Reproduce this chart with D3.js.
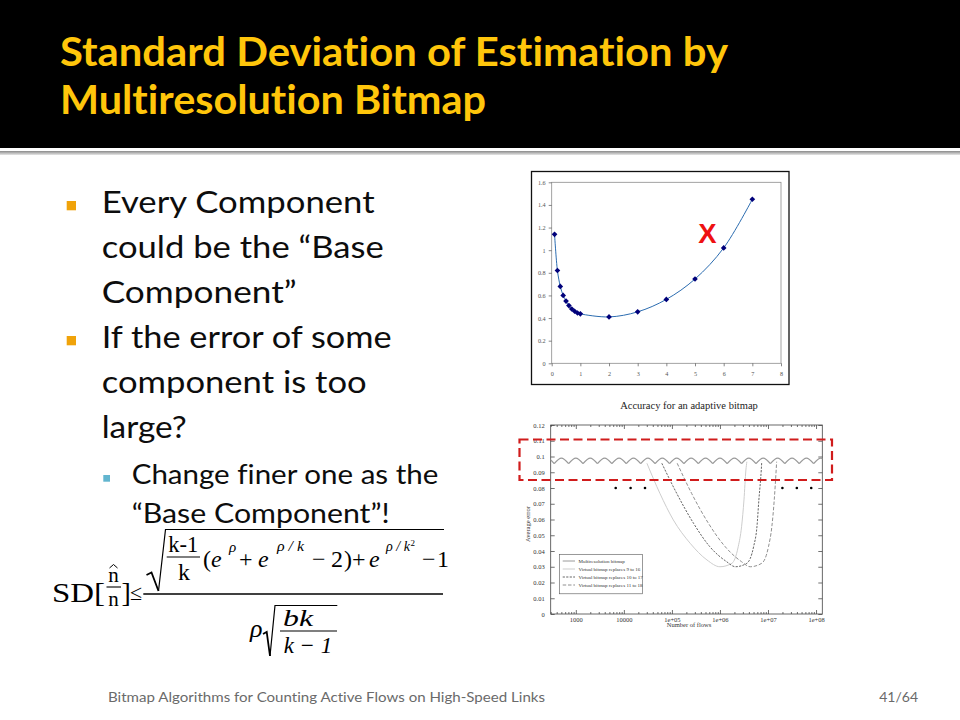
<!DOCTYPE html>
<html>
<head>
<meta charset="utf-8">
<script src="https://cdn.jsdelivr.net/npm/d3@7"></script>
<style>
  html, body { margin: 0; padding: 0; background: #fff; }
  svg { display: block; font-variant-ligatures: none; }
</style>
</head>
<body>
<div id="slide"></div>
<script>
// ---- slide text ----
var titleLines = ["Standard Deviation of Estimation by", "Multiresolution Bitmap"];
var bulletLines = [
  ["Every Component", "could be the \u201cBase", "Component\u201d"],
  ["If the error of some", "component is too", "large?"]
];
var subBulletLines = ["Change finer one as the", "\u201cBase Component\u201d!"];
var footerText = "Bitmap Algorithms for Counting Active Flows on High-Speed Links";
var pageText = "41/64";

// ---- top chart: SD vs rho ----
var rhoValues = [0.1, 0.2, 0.3, 0.4, 0.5, 0.6, 0.7, 0.8, 0.9, 1, 2, 3, 4, 5, 6, 7];
var sdValues  = [1.14, 0.82, 0.68, 0.60, 0.55, 0.51, 0.48, 0.46, 0.445, 0.437, 0.41, 0.455, 0.565, 0.745, 1.02, 1.45];
var topYTicks  = [0, 0.2, 0.4, 0.6, 0.8, 1, 1.2, 1.4, 1.6];
var topYLabels = ["0", "0.2", "0.4", "0.6", "0.8", "1", "1.2", "1.4", "1.6"];
var topXTicks  = [0, 1, 2, 3, 4, 5, 6, 7, 8];

// ---- bottom chart: accuracy for an adaptive bitmap ----
var errTicks  = [0, 0.01, 0.02, 0.03, 0.04, 0.05, 0.06, 0.07, 0.08, 0.09, 0.1, 0.11, 0.12];
var errLabels = ["0", "0.01", "0.02", "0.03", "0.04", "0.05", "0.06", "0.07", "0.08", "0.09", "0.1", "0.11", "0.12"];
var flowTicks  = [1e3, 1e4, 1e5, 1e6, 1e7, 1e8];
var flowLabels = ["1000", "10000", "1e+05", "1e+06", "1e+07", "1e+08"];

// log10(flows): cusps and peaks of the multiresolution curve
var multiresExp = [2.25, 2.40, 2.55, 2.70, 2.85, 3.00, 3.15, 3.30, 3.45, 3.60, 3.75, 3.90, 4.05, 4.20,
  4.35, 4.50, 4.65, 4.80, 4.95, 5.10, 5.25, 5.40, 5.55, 5.70, 5.85, 6.00, 6.15, 6.30, 6.45, 6.60,
  6.75, 6.90, 7.05, 7.20, 7.35, 7.50, 7.65, 7.80, 7.95, 8.10, 8.25];
var multiresErr = [0.0955, 0.099, 0.0955, 0.099, 0.0955, 0.099, 0.0955, 0.099, 0.0955, 0.099, 0.0955,
  0.099, 0.0955, 0.099, 0.0955, 0.099, 0.0955, 0.099, 0.0955, 0.099, 0.0955, 0.099, 0.0955, 0.099,
  0.0955, 0.099, 0.0955, 0.099, 0.0955, 0.099, 0.0955, 0.099, 0.0955, 0.099, 0.0955, 0.099, 0.0955,
  0.099, 0.0955, 0.099, 0.0955];

var virt916Exp = [4.48, 4.75, 5.03, 5.38, 5.73, 6.00, 6.25, 6.38, 6.45, 6.50, 6.54, 6.56];
var virt916Err = [0.0957, 0.0766, 0.0597, 0.0449, 0.0343, 0.0300, 0.0322, 0.0427, 0.0554, 0.0724, 0.0914, 0.0967];
var virt1017Exp = [4.79, 5.10, 5.45, 5.79, 6.14, 6.32, 6.56, 6.70, 6.77, 6.81, 6.86, 6.87];
var virt1017Err = [0.0957, 0.0766, 0.0576, 0.0427, 0.0332, 0.0300, 0.0322, 0.0427, 0.0554, 0.0724, 0.0914, 0.0967];
var virt1118Exp = [5.11, 5.41, 5.76, 6.11, 6.45, 6.63, 6.87, 7.01, 7.08, 7.13, 7.17, 7.18];
var virt1118Err = [0.0957, 0.0766, 0.0576, 0.0427, 0.0332, 0.0300, 0.0322, 0.0427, 0.0554, 0.0724, 0.0914, 0.0967];

var dotExp = [3.83, 4.14, 4.44, 7.30, 7.60, 7.90];
var dotErr = [0.08, 0.08, 0.08, 0.08, 0.08, 0.08];

var legendNames = ["Multiresolution bitmap", "Virtual bitmap replaces 9 to 16",
  "Virtual bitmap replaces 10 to 17", "Virtual bitmap replaces 11 to 18"];

var W = 960, H = 720;
var serif = "'Liberation Serif', 'DejaVu Serif', serif";
var sans = "Lato, 'Open Sans', sans-serif";

var svg = d3.select("#slide").append("svg")
  .attr("width", W)
  .attr("height", H);

var defs = svg.append("defs");
var grad = defs.append("linearGradient").attr("id", "rule")
  .attr("x1", 0).attr("y1", 0).attr("x2", 0).attr("y2", 1);
grad.append("stop").attr("offset", "0%").attr("stop-color", "#8a8a8a");
grad.append("stop").attr("offset", "100%").attr("stop-color", "#e6e6e6");

// header band
svg.append("rect").attr("x", 0).attr("y", 0).attr("width", W).attr("height", 148).attr("fill", "#000");
svg.append("rect").attr("x", 0).attr("y", 151).attr("width", W).attr("height", 4).attr("fill", "url(#rule)");

var titleWidths = [668, 426];
svg.selectAll(".title")
  .data(titleLines)
  .enter().append("text")
  .attr("class", "title")
  .attr("x", 60)
  .attr("y", (d, i) => 66 + i * 48)
  .attr("textLength", (d, i) => titleWidths[i])
  .attr("lengthAdjust", "spacingAndGlyphs")
  .attr("font-family", sans)
  .attr("font-weight", "bold")
  .attr("font-size", 41)
  .attr("fill", "#FFC60B")
  .text(d => d);

// bullets
var lineWidths = [[273, 282, 195], [290, 265, 85]];
var firstBase = [213, 348];
bulletLines.forEach(function(lines, b) {
  svg.append("rect")
    .attr("x", 66.7).attr("y", firstBase[b] - 12)
    .attr("width", 9.3).attr("height", 9.3)
    .attr("fill", "#F0A30A");
  lines.forEach(function(t, i) {
    svg.append("text")
      .attr("x", 101.7)
      .attr("y", firstBase[b] + i * 45)
      .attr("textLength", lineWidths[b][i])
      .attr("lengthAdjust", "spacingAndGlyphs")
      .attr("font-family", sans)
      .attr("font-size", 31)
      .attr("fill", "#0d0d0d")
      .text(t);
  });
});
svg.append("rect")
  .attr("x", 103.3).attr("y", 475)
  .attr("width", 6.7).attr("height", 6.7)
  .attr("fill", "#62B5CF");
var subWidths = [306.6, 258];
subBulletLines.forEach(function(t, i) {
  svg.append("text")
    .attr("x", 131.7)
    .attr("y", 484 + i * 39)
    .attr("textLength", subWidths[i])
    .attr("lengthAdjust", "spacingAndGlyphs")
    .attr("font-family", sans)
    .attr("font-size", 26)
    .attr("fill", "#0d0d0d")
    .text(t);
});

// footer
svg.append("text")
  .attr("x", 108).attr("y", 702)
  .attr("textLength", 437).attr("lengthAdjust", "spacingAndGlyphs")
  .attr("font-family", sans).attr("font-size", 14).attr("fill", "#6a6a6a")
  .text(footerText);
svg.append("text")
  .attr("x", 918).attr("y", 702)
  .attr("text-anchor", "end")
  .attr("font-family", sans).attr("font-size", 14).attr("fill", "#6a6a6a")
  .text(pageText);

// ---- formula ----
var fg = svg.append("g").attr("font-family", serif).attr("fill", "#000");
function put(txt, x, y, size, italic, opts) {
  var t = fg.append("text").attr("x", x).attr("y", y).attr("font-size", size)
    .attr("font-style", italic ? "italic" : "normal").text(txt);
  if (opts && opts.anchor) t.attr("text-anchor", opts.anchor);
  if (opts && opts.len) t.attr("textLength", opts.len).attr("lengthAdjust", "spacingAndGlyphs");
  return t;
}
function bar(x1, x2, y, w) {
  fg.append("line").attr("x1", x1).attr("x2", x2).attr("y1", y).attr("y2", y)
    .attr("stroke", "#000").attr("stroke-width", w || 1.2);
}
function stroke(d, w) {
  fg.append("path").attr("d", d).attr("fill", "none")
    .attr("stroke", "#000").attr("stroke-width", w).attr("stroke-linejoin", "miter");
}
put("SD[", 52, 602, 28, false, {len: 53});
stroke("M109.5,568 L113.5,564.5 L117.5,568", 1);
put("n", 113.5, 582, 21, false, {anchor: "middle"});
bar(106.5, 121, 587, 1.1);
put("n", 113.5, 606, 21, false, {anchor: "middle"});
put("]", 121.5, 602, 28, false);
put("\u2264", 130, 600, 22, false);
bar(143.3, 443, 594, 1.3);
stroke("M146.5,575 L151.5,572.5 L158.5,591", 1.8);
stroke("M158.5,591 L165.5,529.5 L444,529.5", 1.2);
put("k-1", 168.3, 552, 24, false, {len: 30});
bar(166.7, 200, 557, 1.1);
put("k", 184, 580, 24, false, {anchor: "middle"});
put("(", 203, 567, 24, false);
put("e", 211, 567, 24, true);
put("\u03c1", 229, 552, 15, true);
put("+", 239, 567, 24, false);
put("e", 258, 567, 24, true);
put("\u03c1 / k", 277, 551, 15, true, {len: 27});
put("\u2212", 312, 567, 24, false);
put("2", 331, 567, 24, false);
put(")", 344, 567, 24, false);
put("+", 352, 567, 24, false);
put("e", 369, 567, 24, true);
put("\u03c1 / k", 386, 551, 15, true, {len: 24});
put("2", 410.5, 546, 9, false);
put("\u2212", 422, 567, 24, false);
put("1", 437, 567, 24, false);
put("\u03c1", 250, 637, 26, true);
stroke("M263,634 L266.7,632 L270,656", 1.8);
stroke("M270,656 L275,605.5 L337.3,605.5", 1.2);
put("bk", 283, 626, 24, true, {len: 30});
bar(280, 337, 631, 1.1);
put("k \u2212 1", 308, 653, 23, true, {anchor: "middle"});

// ---- top chart ----
var topX = d3.scaleLinear().domain([0, 8]).range([551.7, 781]);
var topY = d3.scaleLinear().domain([0, 1.6]).range([363.3, 182.3]);

svg.append("rect")
  .attr("x", 531.5).attr("y", 171.5).attr("width", 257.5).attr("height", 213)
  .attr("fill", "#fff").attr("stroke", "#111").attr("stroke-width", 1.3);
svg.append("rect")
  .attr("x", topX(0)).attr("y", topY(1.6))
  .attr("width", topX(8) - topX(0)).attr("height", topY(0) - topY(1.6))
  .attr("fill", "none").attr("stroke", "#8c8c8c").attr("stroke-width", 0.8);

function styleAxis(g, size, color) {
  g.attr("font-family", serif).attr("font-size", size);
  g.select(".domain").remove();
  g.selectAll("line").attr("stroke", color).attr("stroke-width", 0.7);
  g.selectAll("text").attr("fill", color);
}

svg.append("g")
  .attr("transform", "translate(" + topX(0) + ",0)")
  .call(d3.axisLeft(topY).tickValues(topYTicks).tickFormat((d, i) => topYLabels[i]).tickSize(3).tickPadding(3))
  .call(g => styleAxis(g, 6.2, "#555"));
svg.append("g")
  .attr("transform", "translate(0," + topY(0) + ")")
  .call(d3.axisBottom(topX).tickValues(topXTicks).tickFormat(d => d).tickSize(3).tickPadding(5))
  .call(g => styleAxis(g, 6.2, "#555"));

var topData = rhoValues.map((r, i) => ({rho: r, sd: sdValues[i]}));
svg.append("path")
  .datum(topData)
  .attr("d", d3.line().x(d => topX(d.rho)).y(d => topY(d.sd)).curve(d3.curveCatmullRom))
  .attr("fill", "none")
  .attr("stroke", "#2b6cb0")
  .attr("stroke-width", 1);
svg.selectAll(".mk")
  .data(topData)
  .enter().append("path")
  .attr("class", "mk")
  .attr("transform", d => "translate(" + topX(d.rho) + "," + topY(d.sd) + ") rotate(45)")
  .attr("d", d3.symbol().type(d3.symbolSquare).size(16))
  .attr("fill", "#00007a");

svg.append("text")
  .attr("x", 698.3).attr("y", 243.3)
  .attr("font-family", "'Liberation Sans', Arial, sans-serif")
  .attr("font-weight", "bold")
  .attr("font-size", 27.5)
  .attr("fill", "#ee1111")
  .text("X");

// ---- bottom chart ----
var bx = d3.scaleLog().domain([300, 1.35e8]).range([550.7, 822.3]);
var by = d3.scaleLinear().domain([0, 0.12]).range([614, 425]);

svg.append("text")
  .attr("x", 689).attr("y", 409)
  .attr("text-anchor", "middle")
  .attr("font-family", serif).attr("font-size", 10.5).attr("fill", "#222")
  .text("Accuracy for an adaptive bitmap");

defs.append("clipPath").attr("id", "plotclip")
  .append("rect").attr("x", bx.range()[0]).attr("y", by(0.12))
  .attr("width", bx.range()[1] - bx.range()[0]).attr("height", by(0) - by(0.12));

var minorTicks = bx.ticks().filter(v => flowTicks.indexOf(v) < 0 && Math.abs(Math.log10(v) % 1) > 1e-6);

svg.append("g").attr("transform", "translate(" + bx.range()[0] + ",0)")
  .call(d3.axisLeft(by).tickValues(errTicks).tickFormat((d, i) => errLabels[i]).tickSizeInner(-4).tickSizeOuter(0).tickPadding(6))
  .call(g => styleAxis(g, 6.5, "#333"));
svg.append("g").attr("transform", "translate(" + bx.range()[1] + ",0)")
  .call(d3.axisRight(by).tickValues(errTicks).tickFormat("").tickSizeInner(-4).tickSizeOuter(0))
  .call(g => styleAxis(g, 6.5, "#333"));
svg.append("g").attr("transform", "translate(0," + by(0) + ")")
  .call(d3.axisBottom(bx).tickValues(flowTicks).tickFormat((d, i) => flowLabels[i]).tickSizeInner(-4).tickSizeOuter(0).tickPadding(3))
  .call(g => styleAxis(g, 6.5, "#333"));
svg.append("g").attr("transform", "translate(0," + by(0) + ")")
  .call(d3.axisBottom(bx).tickValues(minorTicks).tickFormat("").tickSizeInner(-2).tickSizeOuter(0))
  .call(g => styleAxis(g, 6.5, "#333"));
svg.append("g").attr("transform", "translate(0," + by(0.12) + ")")
  .call(d3.axisTop(bx).tickValues(flowTicks).tickFormat("").tickSizeInner(-4).tickSizeOuter(0))
  .call(g => styleAxis(g, 6.5, "#333"));
svg.append("g").attr("transform", "translate(0," + by(0.12) + ")")
  .call(d3.axisTop(bx).tickValues(minorTicks).tickFormat("").tickSizeInner(-2).tickSizeOuter(0))
  .call(g => styleAxis(g, 6.5, "#333"));

svg.append("rect")
  .attr("x", bx.range()[0]).attr("y", by(0.12))
  .attr("width", bx.range()[1] - bx.range()[0]).attr("height", by(0) - by(0.12))
  .attr("fill", "none").attr("stroke", "#444").attr("stroke-width", 0.8);

svg.append("text")
  .attr("x", 689).attr("y", 627)
  .attr("text-anchor", "middle")
  .attr("font-family", serif).attr("font-size", 6.5).attr("fill", "#333")
  .text("Number of flows");
svg.append("text")
  .attr("transform", "translate(529.5,524) rotate(-90)")
  .attr("text-anchor", "middle")
  .attr("font-family", serif).attr("font-size", 6.5).attr("fill", "#333")
  .text("Average error");

var plot = svg.append("g").attr("clip-path", "url(#plotclip)");
var lineB = d3.line().x(d => bx(Math.pow(10, d[0]))).y(d => by(d[1]));

// multiresolution bitmap: one arc per component
var mPts = multiresExp.map((e, i) => [e, multiresErr[i]]);
var humps = [];
for (var i = 0; i + 2 < mPts.length; i += 2) humps.push(mPts.slice(i, i + 3));
plot.selectAll(".hump")
  .data(humps)
  .enter().append("path")
  .attr("class", "hump")
  .attr("d", lineB.curve(d3.curveNatural))
  .attr("fill", "none")
  .attr("stroke", "#9a9a9a")
  .attr("stroke-width", 1.3);

var virtStyles = [
  {exp: virt916Exp, err: virt916Err, color: "#cdcdcd", dash: null},
  {exp: virt1017Exp, err: virt1017Err, color: "#666", dash: "2.2,1.3"},
  {exp: virt1118Exp, err: virt1118Err, color: "#909090", dash: "3.5,1.8"}
];
var lineV = d3.line().x(d => bx(Math.pow(10, d[0]))).y(d => by(d[1])).curve(d3.curveMonotoneX);
virtStyles.forEach(function(s) {
  plot.append("path")
    .datum(s.exp.map((e, i) => [e, s.err[i]]))
    .attr("d", lineV)
    .attr("fill", "none")
    .attr("stroke", s.color)
    .attr("stroke-width", 1)
    .attr("stroke-dasharray", s.dash);
});

plot.selectAll(".dot")
  .data(dotExp.map((e, i) => [e, dotErr[i]]))
  .enter().append("circle")
  .attr("class", "dot")
  .attr("cx", d => bx(Math.pow(10, d[0])))
  .attr("cy", d => by(d[1]))
  .attr("r", 1.3)
  .attr("fill", "#000");

// legend
var legendStyles = [
  {color: "#9a9a9a", dash: null},
  {color: "#cdcdcd", dash: null},
  {color: "#666", dash: "2.2,1.3"},
  {color: "#909090", dash: "3.5,1.8"}
];
var lg = svg.append("g");
lg.append("rect")
  .attr("x", 559.3).attr("y", 554.3).attr("width", 83).attr("height", 39.5)
  .attr("fill", "#fff").attr("stroke", "#555").attr("stroke-width", 0.6);
legendNames.forEach(function(name, i) {
  var yy = 561 + i * 8;
  lg.append("line")
    .attr("x1", 562.7).attr("x2", 575).attr("y1", yy).attr("y2", yy)
    .attr("stroke", legendStyles[i].color).attr("stroke-width", 1)
    .attr("stroke-dasharray", legendStyles[i].dash);
  lg.append("text")
    .attr("x", 578.5).attr("y", yy + 1.7)
    .attr("font-family", serif).attr("font-size", 5).attr("fill", "#333")
    .text(name);
});

// highlight box
svg.append("rect")
  .attr("x", 519.5).attr("y", 439.5).attr("width", 312.5).attr("height", 40.5)
  .attr("fill", "none").attr("stroke", "#d01c1c").attr("stroke-width", 2.2)
  .attr("stroke-dasharray", "9,4.5");
</script>
</body>
</html>
